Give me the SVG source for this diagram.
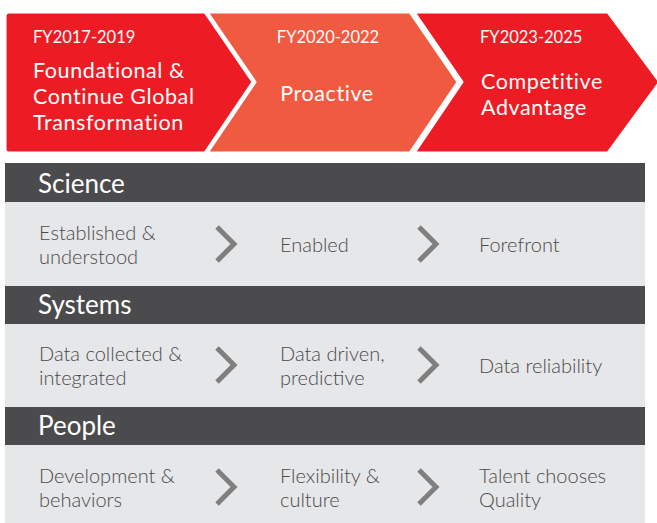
<svg xmlns="http://www.w3.org/2000/svg" width="657" height="523" viewBox="0 0 657 523">
<style>
.chev{stroke:#fff;stroke-width:3;stroke-linejoin:round}
.red{fill:#ED1C24}
.org{fill:#F05A40}
.fy{font-family:Lato,"Open Sans",sans-serif;font-size:16.5px;fill:#fff}
.big{font-family:Lato,"Open Sans",sans-serif;font-size:21.5px;letter-spacing:0.6px;fill:#fff}
.hdr{fill:#4B4B4D}
.row{fill:#E6E7E8}
.ht{font-family:Lato,"Open Sans",sans-serif;font-size:26px;fill:#fff}
.ct{font-family:Lato,"Open Sans",sans-serif;font-size:20px;font-weight:300;fill:#4A4A4A}
.arr{fill:none;stroke:#7F7F7F;stroke-width:5}
</style>
<rect width="657" height="523" fill="#fff"/>
<g id="phase3">
<path class="chev red" d="M414,12 L608,12 L660,82 L608,153 L414,153 L462,82 Z"/>
<text class="fy" x="480" y="43">FY2023-2025</text>
<text class="big" x="481" y="89">Competitive</text>
<text class="big" x="481" y="115">Advantage</text>
</g>
<g id="phase2">
<path class="chev org" d="M207,12 L410,12 L458,82 L410,153 L207,153 L255,82 Z"/>
<text class="fy" x="328" y="43" text-anchor="middle">FY2020-2022</text>
<text class="big" x="327" y="101" text-anchor="middle">Proactive</text>
</g>
<g id="phase1">
<path class="chev red" d="M9,12 L205,12 L253,82 L205,153 L9,153 Q5,153 5,149 L5,16 Q5,12 9,12 Z"/>
<text class="fy" x="33" y="43">FY2017-2019</text>
<text class="big" x="33" y="78">Foundational &amp;</text>
<text class="big" x="33" y="104">Continue Global</text>
<text class="big" x="33" y="130">Transformation</text>
</g>
<g id="science">
<rect class="hdr" x="5" y="163" width="640" height="39"/>
<text class="ht" x="38" y="193">Science</text>
<rect class="row" x="5" y="202" width="640" height="84"/>
<text class="ct" x="39" y="240">Established &amp;</text>
<text class="ct" x="39" y="264">understood</text>
<text class="ct" x="280" y="252">Enabled</text>
<text class="ct" x="479" y="252">Forefront</text>
</g>
<g id="systems">
<rect class="hdr" x="5" y="286" width="640" height="38"/>
<text class="ht" x="38" y="314">Systems</text>
<rect class="row" x="5" y="324" width="640" height="83"/>
<text class="ct" x="39" y="361">Data collected &amp;</text>
<text class="ct" x="39" y="385">integrated</text>
<text class="ct" x="280" y="361">Data driven,</text>
<text class="ct" x="280" y="385">predictive</text>
<text class="ct" x="479" y="373">Data reliability</text>
</g>
<g id="people">
<rect class="hdr" x="5" y="407" width="640" height="38"/>
<text class="ht" x="38" y="435">People</text>
<rect class="row" x="5" y="445" width="640" height="78"/>
<text class="ct" x="39" y="483">Development &amp;</text>
<text class="ct" x="39" y="507">behaviors</text>
<text class="ct" x="280" y="483">Flexibility &amp;</text>
<text class="ct" x="280" y="507">culture</text>
<text class="ct" x="479" y="483">Talent chooses</text>
<text class="ct" x="479" y="507">Quality</text>
</g>
<g id="connectors">
<path class="arr" d="M217,227 L234,244 L217,261"/>
<path class="arr" d="M419,227 L436,244 L419,261"/>
<path class="arr" d="M217,348 L234,365 L217,382"/>
<path class="arr" d="M419,348 L436,365 L419,382"/>
<path class="arr" d="M217,470 L234,487 L217,504"/>
<path class="arr" d="M419,470 L436,487 L419,504"/>
</g>
</svg>
